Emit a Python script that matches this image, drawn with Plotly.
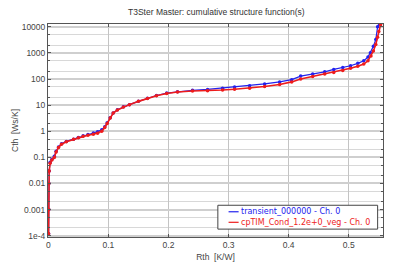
import plotly.graph_objects as go

# Data (Rth [K/W], Cth [Ws/K])
blue_name = "transient_000000 - Ch. 0"
red_name = "cpTIM_Cond_1.2e+0_veg - Ch. 0"

blue_rth = [0.0005, 0.0008, 0.001, 0.0015, 0.003, 0.006, 0.01, 0.013, 0.017, 0.022,
            0.03, 0.042, 0.05, 0.058, 0.066, 0.075, 0.082, 0.089, 0.094, 0.098,
            0.103, 0.108, 0.115, 0.125, 0.135, 0.15, 0.165, 0.18, 0.197, 0.215,
            0.24, 0.265, 0.29, 0.31, 0.335, 0.36, 0.385, 0.405, 0.42, 0.44,
            0.46, 0.475, 0.49, 0.503, 0.515, 0.525, 0.532, 0.536, 0.541, 0.545,
            0.548, 0.551]
blue_cth = [1.2e-4, 0.001, 0.01, 0.03, 0.065, 0.085, 0.11, 0.17, 0.25, 0.33,
            0.41, 0.5, 0.58, 0.67, 0.75, 0.86, 0.97, 1.15, 1.5, 2.1,
            3.3, 5.0, 6.7, 8.7, 10.5, 14, 18.5, 23.5, 29, 33,
            37, 40, 45, 50, 56, 65, 78, 95, 130, 155,
            190, 235, 280, 325, 400, 500, 700, 1030, 1800, 3250,
            10000, 13000]

red_rth = [0.0005, 0.0008, 0.001, 0.0015, 0.003, 0.006, 0.01, 0.013, 0.017, 0.022,
           0.03, 0.042, 0.05, 0.058, 0.066, 0.075, 0.082, 0.089, 0.094, 0.098,
           0.103, 0.108, 0.115, 0.125, 0.135, 0.15, 0.165, 0.18, 0.197, 0.215,
           0.24, 0.265, 0.29, 0.31, 0.335, 0.36, 0.385, 0.405, 0.42, 0.44,
           0.46, 0.475, 0.49, 0.503, 0.515, 0.525, 0.532, 0.537, 0.541, 0.545,
           0.548, 0.55, 0.553]
red_cth = [1.2e-4, 0.001, 0.01, 0.03, 0.06, 0.08, 0.1, 0.16, 0.24, 0.32,
           0.4, 0.49, 0.56, 0.64, 0.7, 0.77, 0.85, 1.0, 1.4, 2.0,
           3.2, 5.0, 6.5, 8.5, 10.5, 14, 18, 23, 28, 32,
           35, 36, 38, 41, 45, 52, 62, 78, 100, 125,
           155, 180, 215, 260, 310, 375, 500, 760, 1200, 2100,
           4000, 6600, 12000]

x_ticks = [0, 0.1, 0.2, 0.3, 0.4, 0.5]
x_ticktext = ["0", "0.1", "0.2", "0.3", "0.4", "0.5"]
y_ticks = [1e-4, 1e-3, 1e-2, 0.1, 1, 10, 100, 1000, 10000]
y_ticktext = ["1e-4", "0.001", "0.01", "0.1", "1", "10", "100", "1000", "10000"]
y_minor = [m * d for d in y_ticks for m in (2, 5)]

FONT = "Liberation Sans, Arial, sans-serif"
LEG_FONT = "DejaVu Sans, Verdana, sans-serif"
BLUE = "#2222ee"
RED = "#ee1c1c"

fig = go.Figure()
fig.add_trace(go.Scatter(x=blue_rth, y=blue_cth, mode="lines+markers",
                         line=dict(color=BLUE, width=1.2),
                         marker=dict(color=BLUE, size=3.5), showlegend=False))
fig.add_trace(go.Scatter(x=red_rth, y=red_cth, mode="lines+markers",
                         line=dict(color=RED, width=1.6),
                         marker=dict(color=RED, size=3.5), showlegend=False))

axis_common = dict(showline=True, linecolor="#555", linewidth=1, mirror="ticks",
                   ticks="inside", ticklen=3, tickcolor="#555",
                   tickfont=dict(family=FONT, size=8.5, color="#444"),
                   zeroline=False)

# Legend drawn in paper coordinates (box, line samples, coloured labels)
leg_x0, leg_x1, leg_y0, leg_y1 = 0.507, 0.984, 0.037, 0.149
leg_rows = [(0.1185, BLUE, blue_name), (0.069, RED, red_name)]
shapes = [dict(type="rect", xref="paper", yref="paper", x0=leg_x0, x1=leg_x1,
               y0=leg_y0, y1=leg_y1, fillcolor="white",
               line=dict(color="#444", width=1), layer="above")]
annotations = []
for yy, col, txt in leg_rows:
    shapes.append(dict(type="line", xref="paper", yref="paper", x0=0.539, x1=0.569,
                       y0=yy, y1=yy, line=dict(color=col, width=1.2), layer="above"))
    annotations.append(dict(xref="paper", yref="paper", x=0.573, y=yy, text=txt,
                            showarrow=False, xanchor="left", yanchor="middle",
                            borderpad=0,
                            font=dict(family=LEG_FONT, size=8, color=col)))

fig.update_layout(
    width=397, height=272,
    margin=dict(l=48, r=14, t=24, b=31),
    paper_bgcolor="white", plot_bgcolor="white",
    showlegend=False,
    title=dict(text="T3Ster Master: cumulative structure function(s)",
               x=0.545, xanchor="center", y=0.955, yanchor="middle",
               font=dict(family=FONT, size=8.5, color="#333")),
    xaxis=dict(range=[-0.0005, 0.557], tickvals=x_ticks, ticktext=x_ticktext,
               showgrid=True, gridcolor="#c4c4c4", gridwidth=1,
               title=dict(text="Rth  [K/W]", standoff=4,
                          font=dict(family=FONT, size=8.5, color="#444")),
               **axis_common),
    yaxis=dict(type="log", range=[-4.05, 4.11], tickvals=y_ticks, ticktext=y_ticktext,
               showgrid=True, gridcolor="#cfcfcf", gridwidth=2,
               minor=dict(tickmode="array", tickvals=y_minor, showgrid=True,
                          gridcolor="#d8d8d8", gridwidth=1,
                          ticks="inside", ticklen=2, tickcolor="#555"),
               title=dict(text="Cth  [Ws/K]", standoff=1,
                          font=dict(family=FONT, size=8.5, color="#444")),
               **axis_common),
    shapes=shapes,
    annotations=annotations,
)

fig.write_html("out.html")
